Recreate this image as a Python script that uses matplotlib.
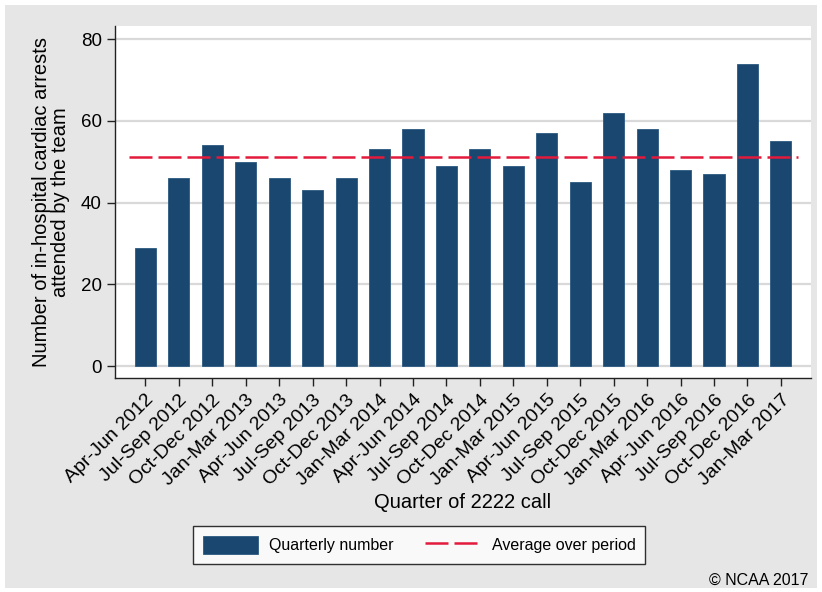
import numpy as np
import matplotlib
matplotlib.use("Agg")
import matplotlib.pyplot as plt
from matplotlib.patches import Rectangle

plt.rcParams['font.family'] = ['Liberation Sans', 'DejaVu Sans']

# quarterly number of in-hospital cardiac arrests
trimestres = ["Apr-Jun 2012", "Jul-Sep 2012", "Oct-Dec 2012", "Jan-Mar 2013",
              "Apr-Jun 2013", "Jul-Sep 2013", "Oct-Dec 2013", "Jan-Mar 2014",
              "Apr-Jun 2014", "Jul-Sep 2014", "Oct-Dec 2014", "Jan-Mar 2015",
              "Apr-Jun 2015", "Jul-Sep 2015", "Oct-Dec 2015", "Jan-Mar 2016",
              "Apr-Jun 2016", "Jul-Sep 2016", "Oct-Dec 2016", "Jan-Mar 2017"]
paradas = [29, 46, 54, 50, 46, 43, 46, 53, 58, 49,
           53, 49, 57, 45, 62, 58, 48, 47, 74, 55]
yticks = [0, 20, 40, 60, 80]

media = np.mean(paradas)
x = np.arange(len(trimestres))

fig = plt.figure(figsize=(8.22, 5.92), dpi=100, facecolor="white")
fig.patches.append(Rectangle((5/822, 4/592), 812/822, 583/592, transform=fig.transFigure,
                             facecolor="#e6e6e6", edgecolor="none", zorder=-10))

ax = fig.add_axes([115/822, 214/592, 696/822, 352/592])
ax.set_facecolor("white")

barras = ax.bar(x, paradas, width=0.63, color="#1a476f", edgecolor="#2c5a80", linewidth=0.6,
                label="Quarterly number", zorder=3)
linha = ax.hlines(media, -0.5, len(x) - 0.5, colors="#e31a3b", linewidth=1.8,
                  linestyles=(0, (9.2, 2.4)), label="Average over period", zorder=4)

ax.set_xlim(-0.91, len(x) - 1 + 0.9)
ax.set_ylim(-2.9, 83.2)
ax.set_yticks(yticks)
ax.set_yticklabels([str(v) for v in yticks], fontsize=13.5)
ax.yaxis.grid(True, color="#d9d9d9", linewidth=1.6, zorder=0)
ax.set_axisbelow(True)

ax.set_xticks(x)
ax.set_xticklabels(trimestres, rotation=45, ha="right", rotation_mode="anchor", fontsize=14)

for s in ["top", "right"]:
    ax.spines[s].set_visible(False)
for s in ["left", "bottom"]:
    ax.spines[s].set_color("#222222")
    ax.spines[s].set_linewidth(1.0)
ax.tick_params(direction="out", length=6, width=1, color="#222222")

ax.set_ylabel("Number of in-hospital cardiac arrests\nattended by the team", fontsize=14.5,
              linespacing=1.0, va="center")
ax.yaxis.set_label_coords(-0.092, 0.5)
ax.set_xlabel("Quarter of 2222 call", fontsize=14.5, va="center")
ax.xaxis.set_label_coords(0.5, -0.355)

leg = fig.legend([barras, linha], ["Quarterly number", "Average over period"],
                 loc="center", bbox_to_anchor=(419/822, 1 - 545/592), ncol=2,
                 fontsize=11.5, frameon=True, fancybox=False, edgecolor="black",
                 handlelength=3.45, handleheight=1.45, handletextpad=0.7,
                 columnspacing=2.0, borderpad=0.6)
leg.get_frame().set_linewidth(1.0)

fig.text(808/822, 1 - 580/592, "© NCAA 2017", ha="right", va="center", fontsize=11.5)

fig.savefig("out.png", dpi=100, facecolor=fig.get_facecolor())
